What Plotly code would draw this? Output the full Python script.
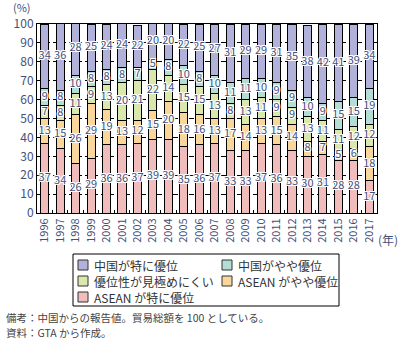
import numpy as np
import plotly.graph_objects as go

years = [str(y) for y in range(1996, 2018)]

# shares of trade value (total = 100), bottom to top of each stack
asean_strong = [37, 34, 26, 29, 36, 36, 37, 39, 39, 35, 36, 37, 33, 33, 37, 36, 33, 30, 31, 28, 28, 17]
asean_slight = [13, 15, 26, 29, 19, 13, 12, 15, 20, 18, 16, 13, 17, 14, 13, 15, 14, 8, 7, 5, 6, 18]
unclear = [7, 8, 11, 9, 13, 20, 21, 22, 14, 15, 15, 13, 8, 13, 11, 9, 9, 13, 11, 11, 12, 12]
china_slight = [9, 8, 10, 8, 8, 8, 7, 5, 8, 10, 8, 10, 11, 11, 10, 9, 9, 10, 9, 15, 15, 19]
china_strong = [34, 36, 28, 25, 24, 24, 22, 20, 20, 22, 25, 27, 31, 29, 29, 31, 35, 38, 42, 41, 39, 34]

series = [
    ("ASEAN が特に優位", asean_strong, "#f0bcbc"),
    ("ASEAN がやや優位", asean_slight, "#f9d69c"),
    ("優位性が見極めにくい", unclear, "#dbe8ad"),
    ("中国がやや優位", china_slight, "#b4ddd5"),
    ("中国が特に優位", china_strong, "#b2b1d9"),
]

notes = ["備考：中国からの報告値。貿易総額を 100 としている。", "資料：GTA から作成。"]

FONT = "Noto Sans CJK JP"
TXT = "#44507a"
HALO = ("1px 0 0 #fff, -1px 0 0 #fff, 0 1px 0 #fff, 0 -1px 0 #fff, "
        "1px 1px 0 #fff, -1px -1px 0 #fff, 1px -1px 0 #fff, -1px 1px 0 #fff")

W, H = 403, 345
ML, MR, MT, MB = 37, 26, 24, 132
PW, PH = W - ML - MR, H - MT - MB


def px_x(px):
    return (px - ML) / PW


def px_y(py):
    return (H - MB - py) / PH


fig = go.Figure()

# stacked bars
for name, vals, color in series:
    fig.add_trace(go.Bar(
        x=years, y=vals, name=name, showlegend=False,
        marker=dict(color=color, line=dict(color="#000", width=1)),
        hoverinfo="x+y+name",
    ))

# value labels at the middle of each segment
base = np.zeros(len(years))
for name, vals, color in series:
    v = np.array(vals, dtype=float)
    fig.add_trace(go.Scatter(
        x=years, y=base + v / 2, mode="text", text=[str(int(a)) for a in v],
        textposition="middle center", showlegend=False, hoverinfo="skip",
        textfont=dict(family=FONT, size=11, color=TXT, shadow=HALO),
        cliponaxis=False,
    ))
    base = base + v

# legend box: two columns, entries listed from the top of the stack
shapes = []
annotations = []
box_l, box_r, box_t, box_b = 73, 339, 254, 306
shapes.append(dict(type="rect", xref="paper", yref="paper",
                   x0=px_x(box_l), x1=px_x(box_r), y0=px_y(box_b), y1=px_y(box_t),
                   line=dict(color="#000", width=1), fillcolor="#fff", layer="above"))
col_x = [78, 222]
row_y = [265, 281, 297]
for i, (name, vals, color) in enumerate(series[::-1]):
    cx = col_x[i % 2]
    cy = row_y[i // 2]
    shapes.append(dict(type="rect", xref="paper", yref="paper",
                       x0=px_x(cx), x1=px_x(cx + 10), y0=px_y(cy + 5), y1=px_y(cy - 5),
                       line=dict(color="#333", width=1), fillcolor=color, layer="above"))
    annotations.append(dict(text=name, xref="paper", yref="paper",
                            x=px_x(cx + 15), y=px_y(cy), xanchor="left", yanchor="middle",
                            showarrow=False, borderpad=0,
                            font=dict(family=FONT, size=12, color="#333")))

annotations += [
    dict(text="(%)", xref="paper", yref="paper", x=px_x(22), y=px_y(7),
         xanchor="center", yanchor="middle", showarrow=False, borderpad=0,
         font=dict(family=FONT, size=11, color=TXT)),
    dict(text="(年)", xref="paper", yref="paper", x=px_x(377), y=px_y(239),
         xanchor="left", yanchor="middle", showarrow=False, borderpad=0,
         font=dict(family=FONT, size=12, color=TXT)),
]
for line, py in zip(notes, [317, 332]):
    annotations.append(dict(text=line, xref="paper", yref="paper", x=px_x(5), y=px_y(py),
                            xanchor="left", yanchor="middle", showarrow=False, borderpad=0,
                            font=dict(family=FONT, size=10.5, color="#444")))

fig.update_layout(
    width=W, height=H,
    margin=dict(l=ML, r=MR, t=MT, b=MB),
    barmode="stack", bargap=0.48,
    plot_bgcolor="#fff", paper_bgcolor="#fff",
    font=dict(family=FONT, size=11, color=TXT),
    showlegend=False,
    xaxis=dict(
        type="category", tickangle=-90, range=[-0.5, len(years) - 0.5],
        showline=True, linecolor="#000", linewidth=1, mirror=True,
        ticks="inside", ticklen=3, tickcolor="#000", tickson="boundaries",
        tickfont=dict(family=FONT, size=11, color=TXT),
        showgrid=False,
    ),
    yaxis=dict(
        range=[0, 100], dtick=10, fixedrange=True,
        showline=True, linecolor="#000", linewidth=1, mirror=True,
        showgrid=True, gridcolor="#000", gridwidth=1, griddash="5px,3px",
        ticks="", tickfont=dict(family=FONT, size=12, color=TXT),
        zeroline=False,
    ),
    shapes=shapes,
    annotations=annotations,
)

fig.write_html("out.html")
